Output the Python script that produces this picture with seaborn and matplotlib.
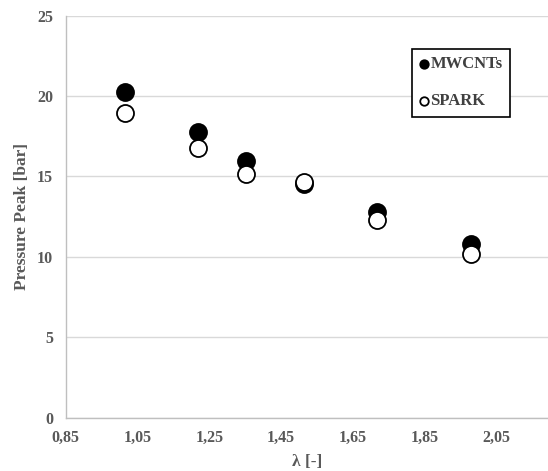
import matplotlib
matplotlib.use("Agg")
import matplotlib.pyplot as plt
import seaborn as sns
import pandas as pd

lam = [1.015, 1.219, 1.353, 1.515, 1.716, 1.978]
mwcnts = [20.27, 17.75, 15.94, 14.51, 12.81, 10.80]
spark = [18.93, 16.79, 15.14, 14.68, 12.29, 10.18]
x_ticks = [0.85, 1.05, 1.25, 1.45, 1.65, 1.85, 2.05]
y_ticks = [0, 5, 10, 15, 20, 25]

df = pd.DataFrame({
    "lam": lam * 2,
    "p": mwcnts + spark,
    "series": ["MWCNTs"] * len(lam) + ["SPARK"] * len(lam),
})

sns.set_style("white")
plt.rcParams['font.family'] = ['Liberation Serif', 'DejaVu Serif']
plt.rcParams['font.weight'] = 'bold'

fig = plt.figure(figsize=(5.48, 4.71), dpi=100)
ax = fig.add_axes([65.7 / 548, 1 - 417.7 / 471, (548 - 65.7) / 548, (417.7 - 15.7) / 471])

grey_txt = "#595959"
axis_col = "#bfbfbf"

for ser, fc in [("SPARK", "white"), ("MWCNTs", "black")]:
    sub = df[df.series == ser]
    sns.scatterplot(data=sub, x="lam", y="p", ax=ax, s=150, color=fc,
                    edgecolor="black", linewidth=1.3, zorder=3 if ser == "SPARK" else 2,
                    label=ser)

ax.set_xlim(0.85, 0.85 + (548 - 65.7) / 359)
ax.set_ylim(0, 25)
ax.set_xticks(x_ticks)
ax.set_xticklabels([f"{v:.2f}".replace(".", ",") for v in x_ticks])
ax.set_yticks(y_ticks)
ax.set_yticklabels([str(v) for v in y_ticks])

ax.grid(axis="y", color="#d9d9d9", linewidth=1.0)
ax.grid(axis="x", visible=False)
ax.set_axisbelow(True)
for s in ["top", "right"]:
    ax.spines[s].set_visible(False)
for s in ["left", "bottom"]:
    ax.spines[s].set_color(axis_col)
    ax.spines[s].set_linewidth(1.0)

ax.tick_params(axis="x", direction="inout", length=7, width=1, color=axis_col,
               labelsize=11.5, labelcolor=grey_txt, pad=5)
ax.tick_params(axis="y", direction="out", length=4, width=1, color=axis_col,
               labelsize=11.5, labelcolor=grey_txt, pad=5)
for lbl in ax.get_xticklabels() + ax.get_yticklabels():
    lbl.set_fontweight("bold")

ax.set_xlabel("λ [-]", fontsize=12.5, fontweight="bold", color=grey_txt)
ax.set_ylabel("Pressure Peak [bar]", fontsize=12.5, fontweight="bold", color=grey_txt)
ax.xaxis.set_label_coords(0.5, -0.09)
ax.yaxis.set_label_coords(-0.074, 0.5)

handles, labels = ax.get_legend_handles_labels()
order = [labels.index("MWCNTs"), labels.index("SPARK")]
leg = ax.legend([handles[i] for i in order], [labels[i] for i in order],
                loc="upper left", bbox_to_anchor=(412 / 548, 1 - 49 / 471),
                bbox_transform=fig.transFigure, frameon=True, fancybox=False,
                edgecolor="black", framealpha=1, markerscale=0.5,
                handlelength=0.5, handletextpad=0.15, labelspacing=1.25,
                borderpad=0.45, borderaxespad=0,
                prop={"family": "Liberation Serif", "weight": "bold", "size": 12})
leg.get_frame().set_linewidth(1.2)
for t in leg.get_texts():
    t.set_color("#404040")

fig.savefig("out.png", dpi=100)
